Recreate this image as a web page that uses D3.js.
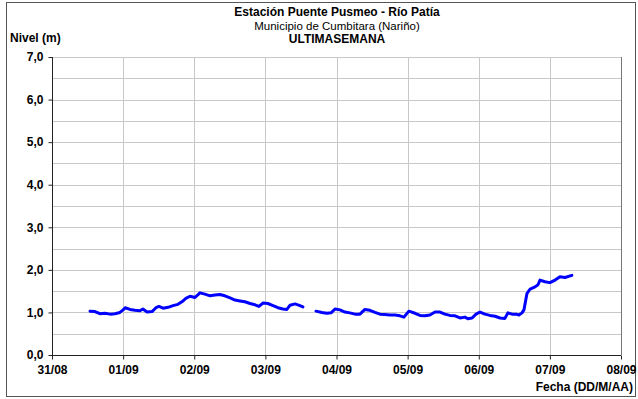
<!DOCTYPE html>
<html lang="es">
<head>
<meta charset="UTF-8">
<title>Estación Puente Pusmeo - Río Patía</title>
<script src="https://d3js.org/d3.v7.min.js"></script>
<style>
    body { margin: 0; background: #fff; }
    text { font-family: 'Liberation Sans', Arial, sans-serif; fill: #000; }
    .tick text { font-size: 12px; font-weight: bold; font-family: 'Liberation Sans', Arial, sans-serif; }
    .grid line { stroke: #c8c8c8; stroke-width: 1; }
</style>
</head>
<body>
<svg width="638" height="399"></svg>
<script>
    // hourly-ish readings; null marks the gap in the record
    const times = [
        "31/08 12:50","31/08 14:30","31/08 16:10","31/08 17:50","31/08 19:35","31/08 21:15","31/08 22:55",
        "01/09 00:00","01/09 00:40","01/09 02:20","01/09 04:00","01/09 05:40","01/09 06:40","01/09 08:05",
        "01/09 09:45","01/09 11:05","01/09 12:05","01/09 13:30","01/09 15:10","01/09 16:50","01/09 18:30",
        "01/09 19:50","01/09 21:10","01/09 22:35",
        "02/09 00:15","02/09 01:55","02/09 03:35","02/09 05:20","02/09 07:00","02/09 08:40","02/09 10:20",
        "02/09 12:05","02/09 13:45","02/09 15:25","02/09 17:05","02/09 18:50","02/09 20:30","02/09 21:50",
        "02/09 23:10",
        "03/09 00:50","03/09 02:35","03/09 04:15","03/09 05:55","03/09 07:15","03/09 08:20","03/09 10:00",
        "03/09 11:40","03/09 12:40","03/09 15:00",
        "03/09 17:05","03/09 19:05","03/09 20:45","03/09 22:10","03/09 23:30",
        "04/09 01:10","04/09 02:50","04/09 04:30","04/09 06:15","04/09 07:55","04/09 09:35","04/09 11:15",
        "04/09 13:00","04/09 14:40","04/09 16:20","04/09 18:00","04/09 19:45","04/09 21:25","04/09 22:45",
        "05/09 00:25","05/09 02:30","05/09 04:10","05/09 05:50","05/09 07:30","05/09 09:15","05/09 10:55",
        "05/09 12:35","05/09 14:15","05/09 16:00","05/09 17:40","05/09 19:20","05/09 20:20","05/09 21:45",
        "05/09 23:05",
        "06/09 00:25","06/09 02:05","06/09 03:45","06/09 05:30","06/09 07:10","06/09 08:50","06/09 09:50",
        "06/09 11:15","06/09 12:35","06/09 13:35","06/09 14:35","06/09 15:15","06/09 16:15","06/09 17:20",
        "06/09 19:00","06/09 20:00","06/09 20:40","06/09 22:20",
        "07/09 00:00","07/09 01:45","07/09 03:25","07/09 05:05","07/09 07:25"
    ];
    const levels = [
        1.03,1.02,0.97,0.98,0.96,0.97,1.00,
        1.06,1.11,1.07,1.05,1.04,1.08,1.01,
        1.02,1.11,1.14,1.10,1.12,1.16,1.19,
        1.25,1.33,1.38,
        1.35,1.46,1.43,1.39,1.41,1.42,1.39,
        1.34,1.29,1.27,1.25,1.21,1.18,1.14,
        1.22,
        1.21,1.16,1.11,1.08,1.07,1.17,1.20,
        1.16,1.13,null,
        1.03,1.00,0.98,0.99,1.08,
        1.06,1.01,0.99,0.96,0.96,1.07,1.05,
        1.00,0.96,0.95,0.94,0.94,0.92,0.89,
        1.03,0.98,0.93,0.92,0.94,1.01,1.01,
        0.96,0.93,0.92,0.87,0.89,0.85,0.87,
        0.96,
        1.01,0.96,0.93,0.91,0.87,0.86,0.99,
        0.96,0.96,0.94,0.99,1.06,1.44,1.55,
        1.60,1.65,1.76,1.72,
        1.70,1.76,1.84,1.82,1.87
    ];
    const xTickLabels = ["31/08","01/09","02/09","03/09","04/09","05/09","06/09","07/09","08/09"];
    const yTicks = [0, 1, 2, 3, 4, 5, 6, 7];
    const yGrid = d3.range(0, 7.01, 0.5);

    const parse = d3.timeParse("%d/%m %H:%M");
    const data = times.map((t, i) => ({ t: parse(t), v: levels[i] }));
    const xDays = xTickLabels.map(d => parse(d + " 00:00"));

    const svg = d3.select("svg");
    const pLeft = 52, pRight = 621, pTop = 57, pBottom = 355;

    const x = d3.scaleTime().domain([xDays[0], xDays[xDays.length - 1]]).range([pLeft, pRight]);
    const y = d3.scaleLinear().domain([0, 7]).range([pBottom, pTop]);

    // outer frame
    svg.append("rect").attr("x", 6.5).attr("y", 2.5).attr("width", 629).attr("height", 394)
        .attr("fill", "none").attr("stroke", "#555").attr("stroke-width", 1);

    // grid
    svg.append("g").attr("class", "grid").selectAll("line").data(yGrid).enter().append("line")
        .attr("x1", pLeft).attr("x2", pRight)
        .attr("y1", d => Math.round(y(d)) + 0.5).attr("y2", d => Math.round(y(d)) + 0.5);
    svg.append("g").attr("class", "grid").selectAll("line").data(xDays.slice(1, -1)).enter().append("line")
        .attr("y1", pTop).attr("y2", pBottom)
        .attr("x1", d => Math.round(x(d)) + 0.5).attr("x2", d => Math.round(x(d)) + 0.5);
    svg.append("line").attr("x1", pRight + 0.5).attr("x2", pRight + 0.5).attr("y1", pTop).attr("y2", pBottom)
        .attr("stroke", "#777");

    // axes
    const yAxis = d3.axisLeft(y).tickValues(yTicks).tickSize(4).tickPadding(5)
        .tickFormat(d => d3.format(".1f")(d).replace(".", ","));
    svg.append("g").attr("transform", `translate(${pLeft + 0.5},0)`).call(yAxis)
        .attr("font-family", null).attr("font-size", null)
        .call(g => g.selectAll("path, line").attr("stroke", "#222"))
        .call(g => g.select(".domain").attr("d", `M0,${pTop}V${pBottom}`));

    const xAxis = d3.axisBottom(x).tickValues(xDays).tickSize(4).tickPadding(6)
        .tickFormat((d, i) => xTickLabels[i]);
    svg.append("g").attr("transform", `translate(0,${pBottom + 0.5})`).call(xAxis)
        .attr("font-family", null).attr("font-size", null)
        .call(g => g.selectAll("path, line").attr("stroke", "#222"))
        .call(g => g.select(".domain").attr("d", `M${pLeft},0H${pRight}`));

    // level line
    const line = d3.line().defined(d => d.v != null).x(d => x(d.t)).y(d => y(d.v));
    svg.append("path").datum(data).attr("d", line)
        .attr("fill", "none").attr("stroke", "#0000ff").attr("stroke-width", 3)
        .attr("stroke-linejoin", "round").attr("stroke-linecap", "round");

    // titles
    svg.append("text").attr("x", 337).attr("y", 16).attr("text-anchor", "middle")
        .style("font-size", "12px").style("font-weight", "bold").text("Estación Puente Pusmeo - Río Patía");
    svg.append("text").attr("x", 337).attr("y", 29.5).attr("text-anchor", "middle")
        .style("font-size", "11.5px").text("Municipio de Cumbitara (Nariño)");
    svg.append("text").attr("x", 337).attr("y", 43).attr("text-anchor", "middle")
        .style("font-size", "12px").style("font-weight", "bold").text("ULTIMASEMANA");
    svg.append("text").attr("x", 10).attr("y", 42)
        .style("font-size", "12px").style("font-weight", "bold").text("Nivel (m)");
    svg.append("text").attr("x", 633).attr("y", 391).attr("text-anchor", "end")
        .style("font-size", "12px").style("font-weight", "bold").text("Fecha (DD/M/AA)");
</script>
</body>
</html>
